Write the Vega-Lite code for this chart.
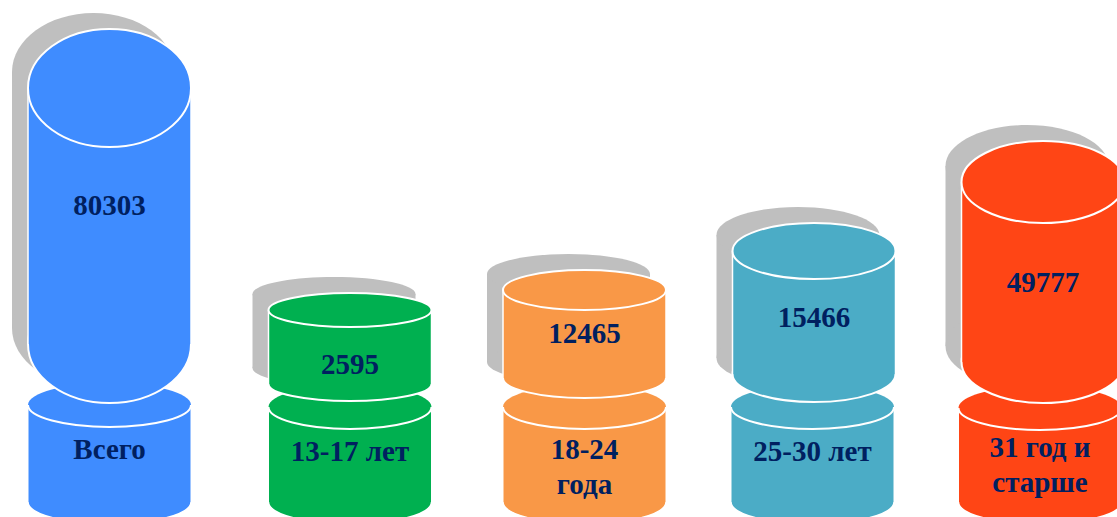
{
"$schema":"https://vega.github.io/schema/vega-lite/v6.json",
"width":1117,"height":517,"autosize":"none","padding":0,"background":"white",
"config":{"view":{"stroke":null},"axis":{"disable":true},"legend":{"disable":true}},
"data":{"values":[
{"group":"Всего","part":"upper","order":0,"top":88,"bottom":344,"label":"80303","level":206},
{"group":"13-17 лет","part":"upper","order":1,"top":310,"bottom":384,"label":"2595","level":365},
{"group":"18-24 года","part":"upper","order":2,"top":290,"bottom":378,"label":"12465","level":334},
{"group":"25-30 лет","part":"upper","order":3,"top":251,"bottom":374,"label":"15466","level":318},
{"group":"31 год и старше","part":"upper","order":4,"top":182,"bottom":362,"label":"49777","level":283},
{"group":"Всего","part":"lower","order":0,"top":405,"bottom":502,"label":"Всего","level":450},
{"group":"13-17 лет","part":"lower","order":1,"top":407,"bottom":502,"label":"13-17 лет","level":452},
{"group":"18-24 года","part":"lower","order":2,"top":407,"bottom":502,"label":"18-24\nгода","level":450},
{"group":"25-30 лет","part":"lower","order":3,"top":407,"bottom":502,"label":"25-30 лет","level":452},
{"group":"31 год и старше","part":"lower","order":4,"top":408,"bottom":502,"label":"31 год и\nстарше","level":448}
]},
"resolve":{"scale":{"x":"independent"}},
"layer":[
{"transform":[{"filter":"datum.part==='upper'"}],
 "encoding":{"x":{"field":"order","type":"quantitative","scale":{"domain":[0,1,2,3,4],"range":[109.5,350,584.5,814,1043],"zero":false,"nice":false,"padding":0}}},
 "layer":[
  {"mark":{"type":"bar","width":163,"fill":"#bfbfbf","xOffset":-16,"yOffset":-16,"y2Offset":-16,"clip":true},
   "encoding":{"y":{"field":"top","type":"quantitative","scale":{"domain":[517,0],"zero":false,"nice":false}},"y2":{"field":"bottom"}}},
  {"mark":{"type":"point","filled":true,"opacity":1,"fill":"#bfbfbf","size":26569,"xOffset":-16,"yOffset":-16,"clip":true},
   "encoding":{"y":{"field":"top","type":"quantitative"},
    "shape":{"field":"group","type":"nominal","scale":{"domain":["Всего","13-17 лет","18-24 года","25-30 лет","31 год и старше"],"range":["M-1,0A1,0.724,0,1,1,1,0A1,0.724,0,1,1,-1,0Z","M-1,0A1,0.209,0,1,1,1,0A1,0.209,0,1,1,-1,0Z","M-1,0A1,0.245,0,1,1,1,0A1,0.245,0,1,1,-1,0Z","M-1,0A1,0.344,0,1,1,1,0A1,0.344,0,1,1,-1,0Z","M-1,0A1,0.503,0,1,1,1,0A1,0.503,0,1,1,-1,0Z"]}}}},
  {"mark":{"type":"point","filled":true,"opacity":1,"fill":"#bfbfbf","size":26569,"xOffset":-16,"yOffset":-16,"clip":true},
   "encoding":{"y":{"field":"bottom","type":"quantitative"},
    "shape":{"field":"group","type":"nominal"}}}
 ]},
{"transform":[{"filter":"datum.part==='lower'"}],
 "encoding":{"x":{"field":"order","type":"quantitative","scale":{"domain":[0,1,2,3,4],"range":[109.5,350,584.5,812.5,1040],"zero":false,"nice":false,"padding":0}},
  "fill":{"field":"group","type":"nominal","scale":{"domain":["Всего","13-17 лет","18-24 года","25-30 лет","31 год и старше"],"range":["#3f8cff","#00b050","#f99847","#4bacc6","#ff4515"]}}},
 "layer":[
  {"mark":{"type":"point","filled":true,"opacity":1,"stroke":"white","strokeWidth":1.5,"size":26569,"shape":"M-1,0A1,0.27,0,1,1,1,0A1,0.27,0,1,1,-1,0Z","clip":true},
   "encoding":{"y":{"field":"bottom","type":"quantitative"}}},
  {"mark":{"type":"bar","width":163,"clip":true},
   "encoding":{"y":{"field":"top","type":"quantitative"},"y2":{"field":"bottom"}}},
  {"mark":{"type":"rule","stroke":"white","strokeWidth":1,"xOffset":-81.5,"clip":true},
   "encoding":{"fill":{"value":null},"y":{"field":"top","type":"quantitative"},"y2":{"field":"bottom"}}},
  {"mark":{"type":"rule","stroke":"white","strokeWidth":1,"xOffset":81.5,"clip":true},
   "encoding":{"fill":{"value":null},"y":{"field":"top","type":"quantitative"},"y2":{"field":"bottom"}}},
  {"mark":{"type":"point","filled":true,"opacity":1,"size":26569,"shape":"M-1,0A1,0.27,0,1,1,1,0A1,0.27,0,1,1,-1,0Z","clip":true},
   "encoding":{"y":{"field":"top","type":"quantitative"}}},
  {"mark":{"type":"point","filled":false,"opacity":1,"stroke":"white","strokeWidth":2,"size":26569,"shape":"M-1,0A1,0.27,0,0,0,1,0","clip":true},
   "encoding":{"fill":{"value":null},"y":{"field":"top","type":"quantitative"}}},
  {"mark":{"type":"text","font":"Liberation Serif","fontWeight":"bold","fontSize":29,"lineBreak":"\n","lineHeight":35,"baseline":"middle","align":"center"},
   "encoding":{"fill":{"value":"#002060"},"y":{"field":"level","type":"quantitative"},"text":{"field":"label"}}}
 ]},
{"transform":[{"filter":"datum.part==='upper'"}],
 "encoding":{"x":{"field":"order","type":"quantitative","scale":{"domain":[0,1,2,3,4],"range":[109.5,350,584.5,814,1043],"zero":false,"nice":false,"padding":0}},
  "fill":{"field":"group","type":"nominal","scale":{"domain":["Всего","13-17 лет","18-24 года","25-30 лет","31 год и старше"],"range":["#3f8cff","#00b050","#f99847","#4bacc6","#ff4515"]}}},
 "layer":[
  {"mark":{"type":"point","filled":true,"opacity":1,"stroke":"white","strokeWidth":2,"size":26569,"clip":true},
   "encoding":{"y":{"field":"bottom","type":"quantitative"},"shape":{"field":"group","type":"nominal"}}},
  {"mark":{"type":"bar","width":163,"clip":true},
   "encoding":{"y":{"field":"top","type":"quantitative"},"y2":{"field":"bottom"}}},
  {"mark":{"type":"rule","stroke":"white","strokeWidth":1.5,"xOffset":-81.5,"clip":true},
   "encoding":{"fill":{"value":null},"y":{"field":"top","type":"quantitative"},"y2":{"field":"bottom"}}},
  {"mark":{"type":"rule","stroke":"white","strokeWidth":1.5,"xOffset":81.5,"clip":true},
   "encoding":{"fill":{"value":null},"y":{"field":"top","type":"quantitative"},"y2":{"field":"bottom"}}},
  {"mark":{"type":"point","filled":true,"opacity":1,"stroke":"white","strokeWidth":2,"size":26569,"clip":true},
   "encoding":{"y":{"field":"top","type":"quantitative"},"shape":{"field":"group","type":"nominal"}}},
  {"mark":{"type":"text","font":"Liberation Serif","fontWeight":"bold","fontSize":29,"baseline":"middle","align":"center"},
   "encoding":{"fill":{"value":"#002060"},"y":{"field":"level","type":"quantitative"},"text":{"field":"label"}}}
 ]}
]
}
